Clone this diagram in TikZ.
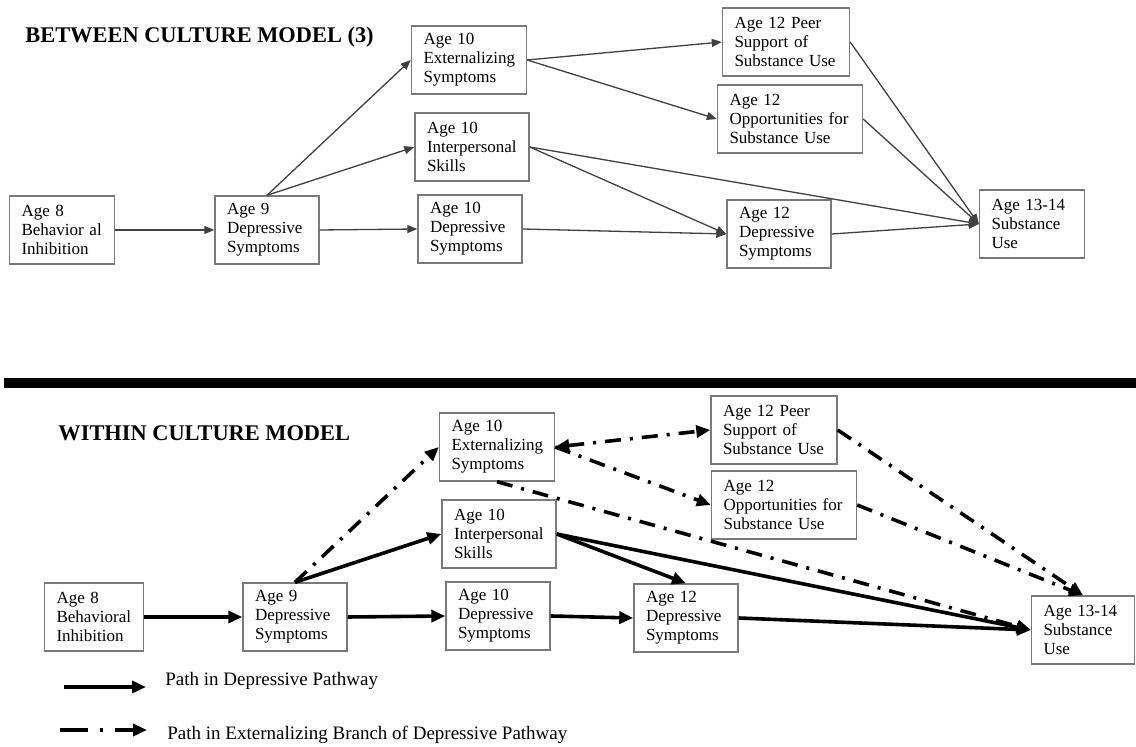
\documentclass[tikz,border=0pt]{standalone}
\usepackage{fontspec}
\setmainfont{Liberation Serif}
\usetikzlibrary{arrows.meta}
\definecolor{boxgray}{HTML}{7A7A7A}
\definecolor{linegray}{HTML}{404040}
\tikzset{
  box/.style={draw=boxgray, line width=0.7pt, align=left, inner xsep=6pt,
    inner ysep=2pt, minimum height=34pt, font=\fontsize{8.5}{9.5}\selectfont},
  thinpath/.style={draw=linegray, line width=0.65pt, -{Triangle[length=5pt,width=4pt]}},
  deppath/.style={line width=1.8pt, -{Triangle[length=7pt,width=6pt]}},
  extpath/.style={line width=1.8pt, dash pattern=on 8pt off 4.5pt on 1.5pt off 4.5pt,
    -{Triangle[length=7pt,width=6pt]}},
  modeltitle/.style={anchor=base west, inner sep=0pt, font=\fontsize{11.2}{13}\selectfont\bfseries},
  legendtext/.style={anchor=base west, inner sep=0pt, font=\fontsize{9.5}{11}\selectfont}
}
\begin{document}
\begin{tikzpicture}[x=0.5pt,y=-0.5pt]
  \useasboundingbox (0,0) rectangle (1136,747);

  % between culture model
  \node[modeltitle] (titleA) at (25,43) {BETWEEN CULTURE MODEL (3)};
  \node[box, text width=40.5pt] (A8t) at (62,230) {Age 8\\Behavior al\\Inhibition};
  \node[box, text width=40pt] (A9t) at (267,230) {Age 9\\Depressive\\Symptoms};
  \node[box, text width=45.5pt] (Ext10t) at (469,60) {Age 10\\Externalizing\\Symptoms};
  \node[box, text width=45pt] (Int10t) at (472,147) {Age 10\\Interpersonal\\Skills};
  \node[box, text width=40pt] (Dep10t) at (470,229) {Age 10\\Depressive\\Symptoms};
  \node[box, text width=51.5pt] (Peer12t) at (786,42) {Age 12 Peer\\Support of\\Substance Use};
  \node[box, text width=60.5pt] (Opp12t) at (790,119) {Age 12\\Opportunities for\\Substance Use};
  \node[box, text width=40pt] (Dep12t) at (779,234) {Age 12\\Depressive\\Symptoms};
  \node[box, text width=40.5pt] (Sub14t) at (1032,224) {Age 13-14\\Substance\\Use};

  \draw[thinpath] (A8t.east) -- (A9t.west);
  \draw[thinpath] (A9t.north) -- (Ext10t.west);
  \draw[thinpath] (A9t.north) -- (Int10t.west);
  \draw[thinpath] (A9t.east) -- (Dep10t.west);
  \draw[thinpath] (Ext10t.east) -- (Peer12t.west);
  \draw[thinpath] (Ext10t.east) -- (Opp12t.west);
  \draw[thinpath] (Int10t.east) -- (Dep12t.west);
  \draw[thinpath] (Int10t.east) -- (Sub14t.west);
  \draw[thinpath] (Dep10t.east) -- (Dep12t.west);
  \draw[thinpath] (Peer12t.east) -- (Sub14t.west);
  \draw[thinpath] (Opp12t.east) -- (Sub14t.west);
  \draw[thinpath] (Dep12t.east) -- (Sub14t.west);

  \draw[line width=5pt] (4,383) -- (1136,383);

  % within culture model
  \node[modeltitle] (titleB) at (58,441) {WITHIN CULTURE MODEL};
  \node[box, text width=37.5pt] (A8b) at (94,617) {Age 8\\Behavioral\\Inhibition};
  \node[box, text width=40pt] (A9b) at (295,617) {Age 9\\Depressive\\Symptoms};
  \node[box, text width=45.5pt] (Ext10b) at (497,447) {Age 10\\Externalizing\\Symptoms};
  \node[box, text width=45pt] (Int10b) at (499,534) {Age 10\\Interpersonal\\Skills};
  \node[box, text width=40pt] (Dep10b) at (498,616) {Age 10\\Depressive\\Symptoms};
  \node[box, text width=51pt] (Peer12b) at (774,430) {Age 12 Peer\\Support of\\Substance Use};
  \node[box, text width=60.5pt] (Opp12b) at (784,505) {Age 12\\Opportunities for\\Substance Use};
  \node[box, text width=40pt] (Dep12b) at (686,618) {Age 12\\Depressive\\Symptoms};
  \node[box, text width=39.5pt] (Sub14b) at (1083,630) {Age 13-14\\Substance\\Use};

  \draw[deppath] (A8b.east) -- (A9b.west);
  \draw[deppath] (A9b.east) -- (Dep10b.west);
  \draw[deppath] (A9b.north) -- (Int10b.west);
  \draw[deppath] (Int10b.east) -- (Dep12b.north);
  \draw[deppath] (Int10b.east) -- (Sub14b.west);
  \draw[deppath] (Dep10b.east) -- (Dep12b.west);
  \draw[deppath] (Dep12b.east) -- (Sub14b.west);
  \draw[extpath] (A9b.north) -- (Ext10b.west);
  \draw[extpath, {Triangle[length=7pt,width=6pt]}-{Triangle[length=7pt,width=6pt]}] (Ext10b.east) -- (Peer12b.west);
  \draw[extpath] (Ext10b.east) -- (Opp12b.west);
  \draw[extpath] (Ext10b.south) -- (Sub14b.west);
  \draw[extpath] (Peer12b.east) -- (Sub14b.north);
  \draw[extpath] (Opp12b.east) -- (Sub14b.north);

  % legend
  \coordinate (solidL) at (64,687);
  \coordinate (solidR) at (146,687);
  \coordinate (dashL) at (60,730);
  \coordinate (dashR) at (147,730);
  \draw[deppath, line width=2pt] (solidL) -- (solidR);
  \draw[extpath, line width=2pt, dash pattern=on 14pt off 6pt on 1.5pt off 6pt] (dashL) -- (dashR);
  \node[legendtext] (keyDep) at (165,686) {Path in Depressive Pathway};
  \node[legendtext] (keyExt) at (167,740) {Path in Externalizing Branch of Depressive Pathway};
\end{tikzpicture}
\end{document}
